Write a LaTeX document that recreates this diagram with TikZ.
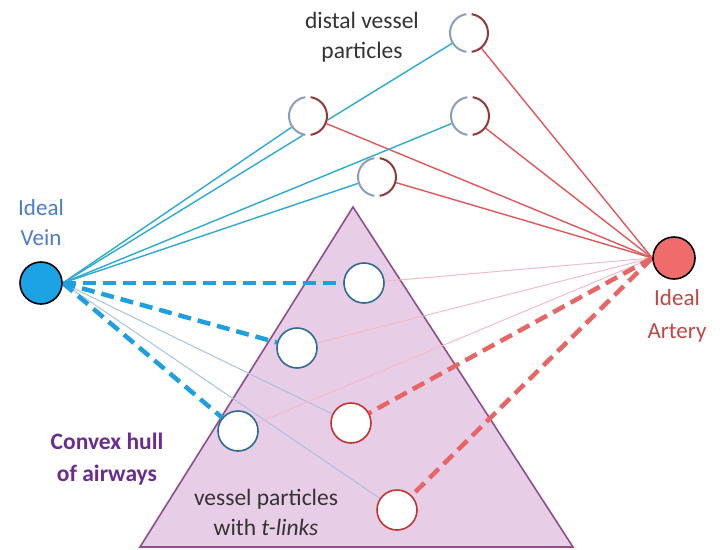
\documentclass[tikz,border=0pt]{standalone}
\usepackage{fontspec}
\setmainfont{Carlito}
\usetikzlibrary{backgrounds}
\definecolor{veinblue}{HTML}{1BA3E6}
\definecolor{arteryred}{HTML}{F06B6B}
\definecolor{thinblue}{HTML}{2AAAD2}
\definecolor{thinred}{HTML}{E0575A}
\definecolor{paleblue}{HTML}{A9C2E2}
\definecolor{palepink}{HTML}{F2BCCB}
\definecolor{dashblue}{HTML}{1E9FE0}
\definecolor{dashred}{HTML}{E86565}
\definecolor{hullfill}{HTML}{E8CDE6}
\definecolor{hulledge}{HTML}{8A4F8C}
\definecolor{partblue}{HTML}{2E6A96}
\definecolor{partred}{HTML}{C23434}
\definecolor{arcblue}{HTML}{8C9CBC}
\definecolor{arcred}{HTML}{92383A}
\definecolor{veintext}{HTML}{4C7CC4}
\definecolor{arttext}{HTML}{C24646}
\definecolor{hulltext}{HTML}{6A2C91}
\pgfdeclarelayer{hull}
\pgfsetlayers{hull,background,main}
\tikzset{
  ideal/.style={circle, draw=black, line width=1.6pt, minimum size=42pt, inner sep=0pt},
  distal/.style={circle, fill=white, minimum size=40pt, inner sep=0pt},
  vpart/.style={circle, fill=white, draw=partblue, line width=1.6pt, minimum size=40pt, inner sep=0pt},
  apart/.style={circle, fill=white, draw=partred, line width=1.6pt, minimum size=40pt, inner sep=0pt},
  thinv/.style={thinblue, line width=1.4pt},
  thina/.style={thinred, line width=1.4pt},
  palev/.style={paleblue, line width=1pt},
  palea/.style={palepink, line width=1pt},
  dashv/.style={dashblue, line width=4.5pt, dash pattern=on 13pt off 7pt},
  dasha/.style={dashred, line width=4.5pt, dash pattern=on 13pt off 7pt},
  lbl/.style={align=center, font=\fontsize{23.5}{30}\selectfont, text=black!80},
}
\begin{document}
\begin{tikzpicture}[x=1pt, y=-1pt]
\useasboundingbox (0,0) rectangle (720,549);

% hull
\begin{pgfonlayer}{hull}
\draw[fill=hullfill, draw=hulledge, line width=1.6pt, line join=miter] (353,207) -- (140,547) -- (573,547) -- cycle;
\end{pgfonlayer}

% ideal nodes
\node[ideal, fill=veinblue] (vein) at (41,283) {};
\node[ideal, fill=arteryred] (artery) at (674,258) {};

% distal particles
\foreach \n/\x/\y in {d1/469/33, d2/308/116, d3/470/116, d4/377/177} {
  \node[distal] (\n) at (\x,\y) {};
  \draw[arcblue, line width=2pt] (\n.center) ++(98:19) arc (98:262:19);
  \draw[arcred, line width=2pt] (\n.center) ++(-82:19) arc (-82:82:19);
}

% vessel particles
\node[vpart] (b1) at (364,283) {};
\node[vpart] (b2) at (297,348) {};
\node[vpart] (b3) at (238,431) {};
\node[apart] (r1) at (351,423) {};
\node[apart] (r2) at (397,510) {};

% connectors
\begin{pgfonlayer}{background}
\foreach \t in {d1,d2,d3,d4} {
  \draw[thinv] (vein.east) -- (\t.center);
  \draw[thina] (artery.west) -- (\t.center);
}
\foreach \t in {r1,r2} \draw[palev] (vein.east) -- (\t.center);
\foreach \t in {b1,b2,b3} \draw[palea] (artery.west) -- (\t.center);
\foreach \t in {b1,b2,b3} \draw[dashv] (vein.east) -- (\t);
\foreach \t in {r1,r2} \draw[dasha] (artery.west) -- (\t);
\end{pgfonlayer}

% labels
\node[lbl] (tdistal) at (362,37) {distal vessel\\particles};
\node[align=center, font=\fontsize{23}{30}\selectfont, text=veintext] (tvein) at (41,223) {Ideal\\Vein};
\node[align=center, font=\fontsize{23}{33}\selectfont, text=arttext] (tartery) at (677,316) {Ideal\\Artery};
\node[align=center, font=\bfseries\fontsize{23.5}{32}\selectfont, text=hulltext] (thull) at (107,459) {Convex hull\\of airways};
\node[lbl] (tvp) at (266,512) {vessel particles\\with \textit{t-links}};
\end{tikzpicture}
\end{document}
